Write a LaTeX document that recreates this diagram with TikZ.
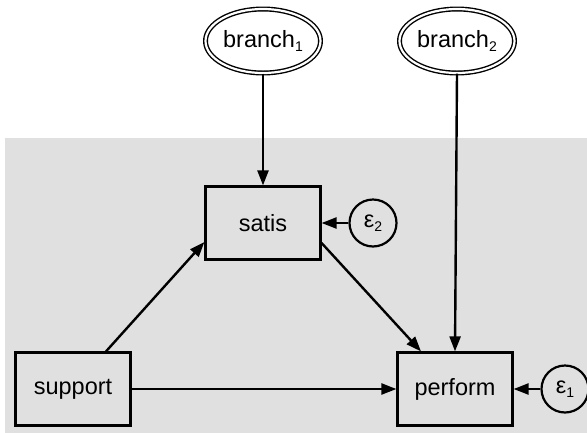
\documentclass[tikz,border=0pt]{standalone}
\usepackage{fontspec}
\setmainfont{Liberation Sans}
\usetikzlibrary{arrows.meta,shapes.geometric}
\definecolor{bggray}{RGB}{224,224,224}
\newcommand\mysub[1]{\raisebox{-0.3ex}{\fontsize{14}{14}\selectfont #1}}
\tikzset{
  obs/.style={draw, line width=2.2pt, minimum width=115pt, minimum height=73pt, inner sep=0pt, font=\fontsize{23.5}{28}\selectfont},
  lat/.style={draw, ellipse, double, line width=1.4pt, double distance=2.2pt, minimum width=115pt, minimum height=64pt, inner sep=0pt, font=\fontsize{23.5}{28}\selectfont},
  err/.style={draw, circle, line width=2.2pt, minimum size=47pt, inner sep=0pt, font=\fontsize{23.5}{28}\selectfont},
  path/.style={line width=2.4pt, -{Triangle[length=15pt,width=11pt]}}
}
\begin{document}
\begin{tikzpicture}[x=1pt,y=-1pt]
\useasboundingbox (0,0) rectangle (587,432);
\fill[bggray] (5,138) rectangle (590,435);
\node[lat] (b1) at (263,41) {branch\mysub{1}};
\node[lat] (b2) at (457,41) {branch\mysub{2}};
\node[obs] (satis) at (263,223) {satis};
\node[obs] (support) at (73,389) {support};
\node[obs] (perform) at (455,389) {perform};
\node[err] (e2) at (373,223) {ε\mysub{2}};
\node[err] (e1) at (565,389) {ε\mysub{1}};
\draw[path] (b1.south) -- (satis.north);
\draw[path] (b2.south) -- (perform.north);
\draw[path] (e2.west) -- (satis.east);
\draw[path] (e1.west) -- (perform.east);
\draw[path] ([xshift=33pt]support.north) -- ([yshift=-19pt]satis.west);
\draw[path] ([yshift=-20pt]satis.east) -- ([xshift=-34pt]perform.north);
\draw[path] (support.east) -- (perform.west);
\end{tikzpicture}
\end{document}
